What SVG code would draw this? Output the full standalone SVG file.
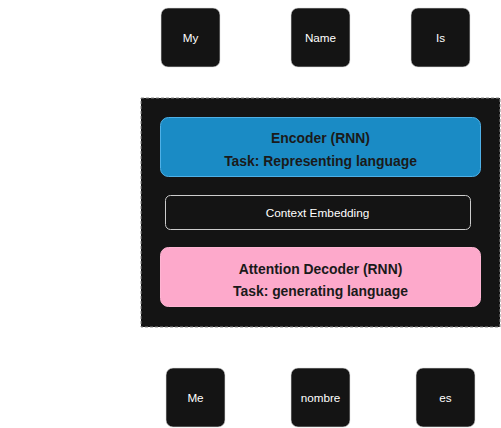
<svg xmlns="http://www.w3.org/2000/svg" width="501" height="428" viewBox="0 0 501 428">
<style>
.tok rect{fill:#141414;stroke:#dddddd;stroke-width:0.6}
.tok text{fill:#ffffff;font-family:"Liberation Sans",Arial,sans-serif;font-size:11.7px;text-anchor:middle;dominant-baseline:central}
.lbl{fill:#1a1a1a;font-family:"Liberation Sans",Arial,sans-serif;font-size:13.9px;font-weight:bold;text-anchor:middle;dominant-baseline:central}
</style>
<rect width="501" height="428" fill="#ffffff"/>
<g id="container">
<rect x="141" y="98" width="359" height="229" fill="#141414" stroke="#888888" stroke-width="1" stroke-dasharray="3,2"/>
</g>
<g id="encoder">
<rect x="160.5" y="117.5" width="320" height="59" rx="8" fill="#1a8bc5" stroke="#4fb0e6" stroke-width="1"/>
<text class="lbl" x="320.5" y="138">Encoder (RNN)</text>
<text class="lbl" x="320.5" y="160.5">Task: Representing language</text>
</g>
<g id="context">
<rect x="165.5" y="195.5" width="305" height="34" rx="5" fill="#141414" stroke="#cccccc" stroke-width="1"/>
<text x="317.5" y="212.5" fill="#ffffff" font-family="Liberation Sans, Arial, sans-serif" font-size="11.8" text-anchor="middle" dominant-baseline="central">Context Embedding</text>
</g>
<g id="decoder">
<rect x="160.5" y="247.5" width="320" height="59" rx="8" fill="#fda9cb" stroke="#fdb5d2" stroke-width="1"/>
<text class="lbl" x="320.5" y="269">Attention Decoder (RNN)</text>
<text class="lbl" x="320.5" y="291">Task: generating language</text>
</g>
<g id="my" class="tok"><rect x="161" y="8" width="59" height="59" rx="7"/><text x="190.5" y="37.5">My</text></g>
<g id="name" class="tok"><rect x="291" y="8" width="59" height="59" rx="7"/><text x="320.5" y="37.5">Name</text></g>
<g id="is" class="tok"><rect x="411" y="8" width="59" height="59" rx="7"/><text x="440.5" y="37.5">Is</text></g>
<g id="me" class="tok"><rect x="166" y="368" width="59" height="59" rx="7"/><text x="195.5" y="397">Me</text></g>
<g id="nombre" class="tok"><rect x="291" y="368" width="59" height="59" rx="7"/><text x="320.5" y="397">nombre</text></g>
<g id="es" class="tok"><rect x="416" y="368" width="59" height="59" rx="7"/><text x="445.5" y="397">es</text></g>
<g id="connectors"></g>
</svg>
